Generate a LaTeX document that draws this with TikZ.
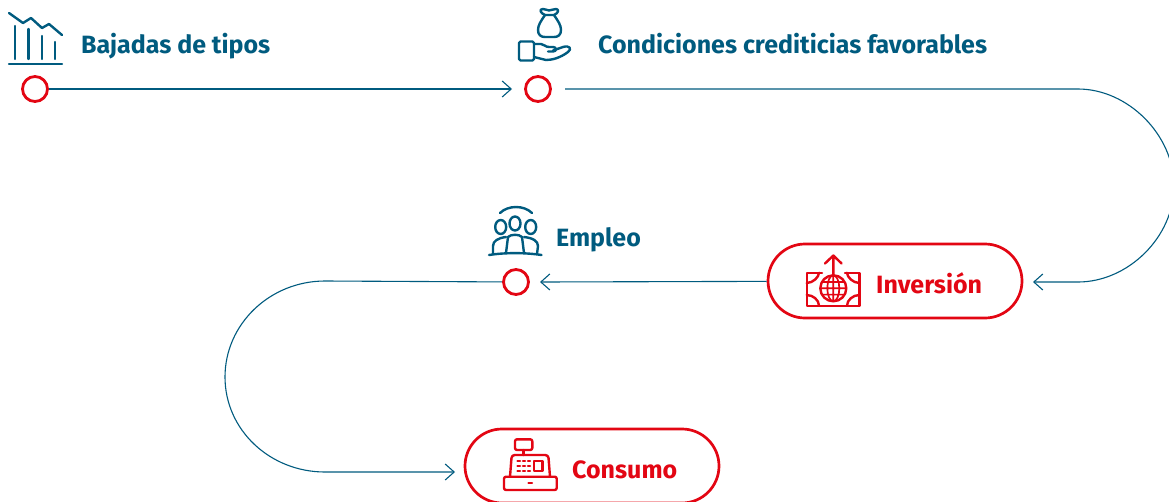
\documentclass[tikz,border=0pt]{standalone}
\usepackage{fontspec}
\setmainfont{Fira Sans}
\usetikzlibrary{arrows.meta}
\definecolor{teal}{HTML}{005B7F}
\definecolor{rojo}{HTML}{E30613}
\tikzset{
  dot/.style={circle,draw=rojo,line width=2.8pt,fill=white,minimum size=25pt,inner sep=0pt},
  pill/.style={rectangle,rounded corners=37pt,draw=rojo,line width=2.7pt,fill=white,minimum width=254pt,minimum height=74pt,inner sep=0pt},
  lab/.style={anchor=base west,inner sep=0pt,font=\fontsize{25}{30}\selectfont\bfseries,text=teal},
  labr/.style={lab,text=rojo},
  conn/.style={draw=teal,line width=1.1pt},
  tip/.style={-{Straight Barb[length=9pt,width=16pt,line width=1.1pt]}},
  ict/.style={draw=teal,line width=2.4pt,line cap=round,line join=round},
  icr/.style={draw=rojo,line width=2.4pt,line cap=round,line join=round}
}
\begin{document}
\begin{tikzpicture}[x=1pt,y=-1pt]
\useasboundingbox (0,0) rectangle (1169,501);
\clip (0,0) rectangle (1169,501);
\fill[white] (0,0) rectangle (1169,501);
% free ends
\coordinate (t1) at (512,89);
\coordinate (s2) at (565,89);
\coordinate (b2a) at (1078,89);
\coordinate (b2b) at (1078,282);
\coordinate (t2) at (1033,282);
\coordinate (t3) at (540,282);
\coordinate (b4a) at (325,281);
\coordinate (b4b) at (325,472);
\coordinate (t4) at (455,472);
% nodes
\node[dot] (n1) at (35,89) {};
\node[dot] (n2) at (538,89) {};
\node[dot] (n3) at (516,282) {};
\node[pill] (inv) at (895,281) {};
\node[pill] (con) at (592,466) {};
% connectors
\draw[conn,tip] (n1) -- (t1);
\draw[conn,tip] (s2) -- (b2a) .. controls +(50,0) and (1174,135) .. (1174,186) .. controls (1174,237) and (1128,282) .. (b2b) -- (t2);
\draw[conn,tip] (inv) -- (t3);
\draw[conn,tip] (n3) -- (b4a) .. controls (270,281) and (225,324) .. (225,377) .. controls (225,430) and (270,472) .. (b4b) -- (t4);
% labels
\node[lab] (l1) at (81,53) {Bajadas de tipos};
\node[lab] (l2) at (598,53) {Condiciones crediticias favorables};
\node[lab] (l3) at (556,246) {Empleo};
\node[labr] (l4) at (876,293) {Inversión};
\node[labr] (l5) at (572,478) {Consumo};
% icon: falling chart
\draw[ict] (9,13) -- (23,23) -- (31,18) -- (42,28) -- (49,24) -- (62,35);
\draw[ict] (15,26) -- (15,59) (28.5,29) -- (28.5,59) (42,36) -- (42,59) (55,42) -- (55,59);
\draw[ict] (9,64) -- (62,64);
% icon: money bag and hand
\draw[ict] (545,15) .. controls (540,13) and (539,9) .. (543,9) .. controls (546,9) and (547,10.5) .. (549,10.5) .. controls (551,10.5) and (553,9) .. (556,9) .. controls (559,9) and (559,13) .. (554,15) -- cycle;
\draw[ict] (545,15) .. controls (541,21) and (538,25) .. (538,30) .. controls (538,35) and (541,37) .. (545,37) -- (554,37) .. controls (558,37) and (561,35) .. (561,30) .. controls (561,25) and (558,21) .. (554,15);
\draw[ict,rounded corners=1.5pt] (519,41.5) rectangle (534,60.5);
\draw[ict] (534,44) -- (541,44) .. controls (544,44) and (545,47) .. (549,47) -- (553,47) .. controls (557,47) and (557,51.5) .. (553,51.5) -- (548,51.5);
\draw[ict] (553,50.5) -- (563,47) .. controls (570,45) and (572,49) .. (568,52) .. controls (560,58) and (552,60) .. (546,60) -- (534,57);
% icon: people
\draw[ict] (500,213) .. controls (508,205) and (524,205) .. (532,213);
\draw[ict] (500.7,227) ellipse (5.5 and 7);
\draw[ict] (515,223.5) ellipse (5.5 and 7);
\draw[ict] (530.7,227) ellipse (5.5 and 7);
\draw[ict] (493,254) -- (493,246) .. controls (493,241) and (498,238) .. (506,237) (537,254) -- (538,246) .. controls (538,241) and (533,238) .. (524,237);
\draw[ict] (506,253) -- (508,237) .. controls (511,234) and (519,234) .. (522,237) -- (524,253);
\draw[ict] (489,255) .. controls (505,252.5) and (525,252.5) .. (541.5,255);
% icon: investment
\draw[icr] (822,272.7) -- (806.7,272.7) -- (806.7,305.7) -- (859.3,305.7) -- (859.3,272.7) -- (845,272.7);
\draw[icr] (819,272.7) .. controls (819,277) and (813,283) .. (806.7,283);
\draw[icr] (847,272.7) .. controls (847,277) and (853,283) .. (859.3,283);
\draw[icr] (806.7,295) .. controls (813,295) and (819,300) .. (819,305.7);
\draw[icr] (859.3,295) .. controls (853,295) and (847,300) .. (847,305.7);
\draw[icr] (833.3,288.3) circle (13);
\draw[icr,line width=1.7pt] (820.3,288.3) -- (846.3,288.3) (833.3,275.3) -- (833.3,301.3) (833.3,288.3) ellipse (6 and 13) (822,282) -- (844.6,282) (822,294.6) -- (844.6,294.6);
\draw[icr] (833.3,275.3) -- (833.3,255.5) (825,263.5) -- (833.3,255.5) -- (841.6,263.5);
% icon: cash register
\draw[icr,rounded corners=2pt] (515,439.3) rectangle (532.3,450);
\draw[icr] (523.5,450) -- (523.5,455);
\draw[icr,rounded corners=3pt] (510,476.7) -- (511.7,455) -- (548.3,455) -- (550,476.7);
\draw[icr,rounded corners=2pt] (504,476.7) rectangle (556.7,490);
\draw[icr] (528.5,483) -- (532,483);
\draw[icr] (534,460.7) rectangle (542.3,470.7);
\draw[icr] (517.5,461) -- (520,461) (523,461) -- (525,461) (528,461) -- (530,461)
  (517.5,466) -- (520,466) (523,466) -- (525,466) (528,466) -- (530,466)
  (517.5,471) -- (520,471) (523,471) -- (525,471) (528,471) -- (530,471);
\end{tikzpicture}
\end{document}
